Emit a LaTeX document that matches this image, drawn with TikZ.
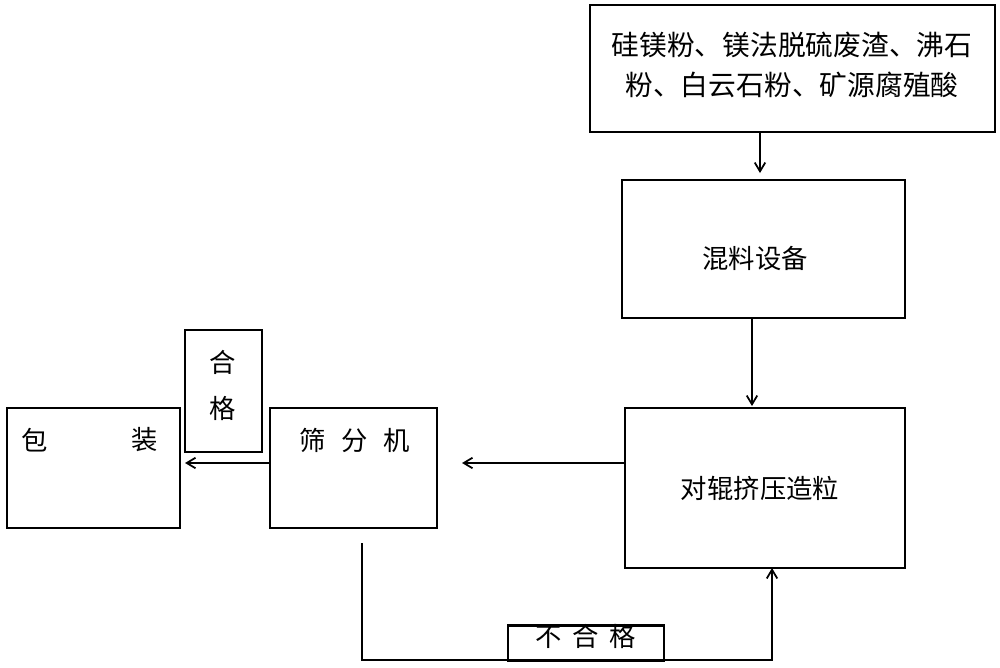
\documentclass[tikz,border=0pt]{standalone}
\usepackage{fontspec}
\newfontfamily\cjk{Noto Sans CJK SC}
\usetikzlibrary{arrows.meta}
\usetikzlibrary{calc}

\tikzset{
  box/.style={draw, line width=1.2pt, inner sep=0pt},
  lbl/.style={font=\cjk\fontsize{15}{20}\selectfont, inner sep=0pt},
  flow/.style={-{Straight Barb[length=5pt,width=6pt]}, line width=1pt}
}

\begin{document}
\begin{tikzpicture}[x=0.02cm,y=-0.02cm]
\useasboundingbox (0,0) rectangle (1000,668);
% boxes
\node (raw) [box, minimum width=8.1cm, minimum height=2.54cm] at (792.5,68.5) {};
\node[lbl,font=\cjk\fontsize{15.8}{20}\selectfont] at (792,45) {硅镁粉、镁法脱硫废渣、沸石};
\node[lbl,font=\cjk\fontsize{15.8}{20}\selectfont] at (792,85) {粉、白云石粉、矿源腐殖酸};
\node (mix) [box, minimum width=5.66cm, minimum height=2.76cm] at (763.5,249) {};
\node[lbl] at (755,258) {混料设备};
\node (roll) [box, minimum width=5.6cm, minimum height=3.2cm] at (765,488) {};
\node[lbl] at (760,488) {对辊挤压造粒};
\node (sieve) [box, minimum width=3.34cm, minimum height=2.4cm] at (353.5,468) {};
\node[lbl] at (355,440) {筛\hspace{0.6em}分\hspace{0.6em}机};
\node (pack) [box, minimum width=3.46cm, minimum height=2.4cm] at (93.5,468) {};
\node[lbl] at (35,440) {包};
\node[lbl] at (145,440) {装};
\node (ok) [box, minimum width=1.54cm, minimum height=2.44cm] at (223.5,391) {};
\node[lbl] at (223,362) {合};
\node[lbl] at (223,408) {格};
\node (bad) [box, minimum width=3.12cm, minimum height=0.7cm] at (586,643) {};
\node[lbl] at (586,636) {不\hspace{0.4em}合\hspace{0.4em}格};
% connectors
\coordinate (s0) at (362,543);
\coordinate (s1) at (362,660);
\coordinate (s2) at (772,660);
\coordinate (s3) at (772,568);
\draw[flow] (raw.south -| 760,0) -- ($(raw.south -| 760,0)+(0,40)$);
\draw[flow] (mix.south -| 752,0) -- ($(mix.south -| 752,0)+(0,87)$);
\draw[flow] (roll.west |- 0,463) -- (462,463);
\draw[flow] (sieve.west |- 0,463) -- (185,463);
\draw[flow] (s0) -- (s1) -- (s2) -- (s3);
\end{tikzpicture}
\end{document}
